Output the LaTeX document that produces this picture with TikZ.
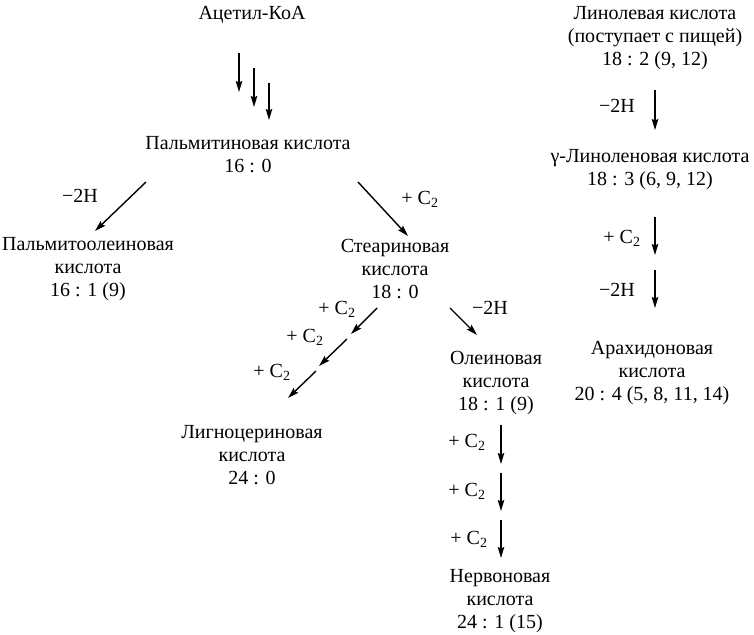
\documentclass[tikz,border=0pt]{standalone}
\usepackage{fontspec}
\setmainfont{Liberation Serif}
\usetikzlibrary{arrows.meta}
\begin{document}
\begin{tikzpicture}[x=1pt,y=-1pt,
  txt/.style={font=\fontsize{20}{23}\selectfont, align=center, inner sep=0pt},
  arr/.style={line width=1.4pt, -{Stealth[length=11pt,width=6.5pt,inset=1.5pt]}}]
\useasboundingbox (0,0) rectangle (754,634);
% compounds
\node[txt] (acetyl) at (252,15) {Ацетил-КоА};
\node[txt] (palm) at (248,155) {Пальмитиновая кислота\\16 : 0};
\node[txt] (palmol) at (88,269) {Пальмитоолеиновая\\кислота\\16 : 1 (9)};
\node[txt] (stear) at (395,269) {Стеариновая\\кислота\\18 : 0};
\node[txt] (olein) at (496,383) {Олеиновая\\кислота\\18 : 1 (9)};
\node[txt] (lign) at (252,455) {Лигноцериновая\\кислота\\24 : 0};
\node[txt] (nerv) at (500,601) {Нервоновая\\кислота\\24 : 1 (15)};
\node[txt] (linol) at (655,38) {Линолевая кислота\\(поступает с пищей)\\18 : 2 (9, 12)};
\node[txt] (glin) at (650,170) {γ-Линоленовая кислота\\18 : 3 (6, 9, 12)};
\node[txt] (arach) at (652,373) {Арахидоновая\\кислота\\20 : 4 (5, 8, 11, 14)};
% labels
\node[txt] (l1) at (80,196) {−2H};
\node[txt] (l2) at (420,199) {+ C\textsubscript{2}};
\node[txt] (l3) at (337,309) {+ C\textsubscript{2}};
\node[txt] (l4) at (305,337) {+ C\textsubscript{2}};
\node[txt] (l5) at (272,372) {+ C\textsubscript{2}};
\node[txt] (l6) at (490,308) {−2H};
\node[txt] (l7) at (467,442) {+ C\textsubscript{2}};
\node[txt] (l8) at (467,491) {+ C\textsubscript{2}};
\node[txt] (l9) at (469,539) {+ C\textsubscript{2}};
\node[txt] (l10) at (617,106) {−2H};
\node[txt] (l11) at (622,238) {+ C\textsubscript{2}};
\node[txt] (l12) at (617,290) {−2H};
% arrow end points
\coordinate (a1s) at (239,53);  \coordinate (a1e) at (239,92);
\coordinate (a2s) at (254,68);  \coordinate (a2e) at (254,107);
\coordinate (a3s) at (269,83);  \coordinate (a3e) at (269,120);
\coordinate (b1s) at (146,182); \coordinate (b1e) at (95,231);
\coordinate (b2s) at (358,182); \coordinate (b2e) at (408,236);
\coordinate (c1s) at (377,308); \coordinate (c1e) at (351,334);
\coordinate (c2s) at (347,339); \coordinate (c2e) at (319,366);
\coordinate (c3s) at (316,371); \coordinate (c3e) at (288,398);
\coordinate (d1s) at (450,308); \coordinate (d1e) at (477,335);
\coordinate (e1s) at (501,425); \coordinate (e1e) at (501,464);
\coordinate (e2s) at (501,473); \coordinate (e2e) at (501,511);
\coordinate (e3s) at (501,520); \coordinate (e3e) at (501,558);
\coordinate (f1s) at (655,90);  \coordinate (f1e) at (655,130);
\coordinate (f2s) at (655,217); \coordinate (f2e) at (655,255);
\coordinate (f3s) at (655,270); \coordinate (f3e) at (655,308);
% arrows
\foreach \p in {a1,a2,a3,b1,b2,c1,c2,c3,d1,e1,e2,e3,f1,f2,f3}
  \draw[arr] (\p s) -- (\p e);
\end{tikzpicture}
\end{document}
